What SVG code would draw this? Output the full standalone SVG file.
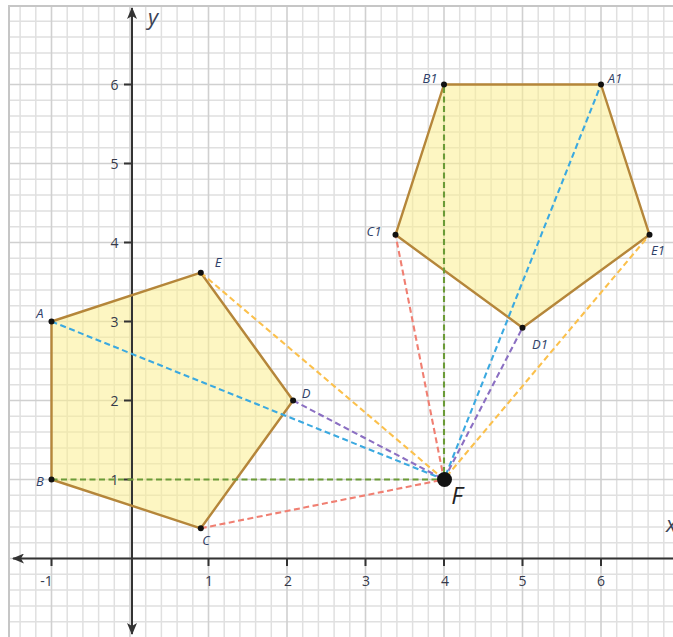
<svg xmlns="http://www.w3.org/2000/svg" width="673" height="637" viewBox="0 0 673 637">
<style>
.minor{stroke:#e0e0e0;stroke-width:1.5;fill:none}
.major{stroke:#d0d0d0;stroke-width:1.6;fill:none}
.frame{stroke:#c6c6c6;stroke-width:2;fill:none}
.fill{fill:#fcee90;fill-opacity:0.55;stroke:none}
.edge{fill:none;stroke:#b5863a;stroke-width:2.4;stroke-linejoin:round}
.axis{stroke:#333;stroke-width:2;fill:none}
.tick{stroke:#333;stroke-width:2}
.num{font-family:"Open Sans","Liberation Sans",sans-serif;font-size:14px;fill:#353a4a}
.lbl{font-family:"Open Sans","Liberation Sans",sans-serif;font-size:13px;font-style:italic;fill:#2f3f68;text-anchor:middle}
.ax{font-family:"Open Sans","Liberation Sans",sans-serif;font-size:22px;font-style:italic;fill:#3c4456}
.dash{fill:none;stroke-width:2.1;stroke-dasharray:6 3.5}
.dot{fill:#111}
</style>
<defs>
<clipPath id="gclip"><rect x="9" y="6" width="664" height="631"/></clipPath>
<marker id="arr" viewBox="0 0 12 10" refX="11" refY="5" markerWidth="12" markerHeight="10" markerUnits="userSpaceOnUse" orient="auto-start-reverse">
<path d="M0,0 L12,5 L0,10 L3,5 z" fill="#333"/>
</marker>
</defs>
<rect width="673" height="637" fill="#fff"/>
<g id="grid" clip-path="url(#gclip)">
<path class="minor" d="M20.1,6V637M35.8,6V637M67.2,6V637M82.9,6V637M98.6,6V637M114.3,6V637M145.7,6V637M161.4,6V637M177.1,6V637M192.8,6V637M224.2,6V637M239.9,6V637M255.6,6V637M271.3,6V637M302.7,6V637M318.4,6V637M334.1,6V637M349.8,6V637M381.2,6V637M396.9,6V637M412.6,6V637M428.3,6V637M459.7,6V637M475.4,6V637M491.1,6V637M506.8,6V637M538.2,6V637M553.9,6V637M569.6,6V637M585.3,6V637M616.7,6V637M632.4,6V637M648.1,6V637M663.8,6V637"/>
<path class="minor" d="M9,621.7H673M9,605.9H673M9,590.1H673M9,574.3H673M9,542.7H673M9,526.9H673M9,511.1H673M9,495.3H673M9,463.7H673M9,447.9H673M9,432.1H673M9,416.3H673M9,384.7H673M9,368.9H673M9,353.1H673M9,337.3H673M9,305.7H673M9,289.9H673M9,274.1H673M9,258.3H673M9,226.7H673M9,210.9H673M9,195.1H673M9,179.3H673M9,147.7H673M9,131.9H673M9,116.1H673M9,100.3H673M9,68.7H673M9,52.9H673M9,37.1H673M9,21.3H673"/>
<path class="major" d="M51.5,6V637M130,6V637M208.5,6V637M287,6V637M365.5,6V637M444,6V637M522.5,6V637M601,6V637"/>
<path class="major" d="M9,558.5H673M9,479.5H673M9,400.5H673M9,321.5H673M9,242.5H673M9,163.5H673M9,84.5H673"/>
</g>
<path class="frame" d="M9,637V6H673"/>
<g id="pentagon-ABCDE-fill"><polygon class="fill" points="51.5,321.5 51.5,479.5 200.8,528.3 293.1,400.5 200.8,272.7"/></g>
<g id="pentagon-A1B1C1D1E1-fill"><polygon class="fill" points="601,84.5 444,84.5 395.5,234.8 522.5,327.7 649.5,234.8"/></g>
<g id="axes">
<line class="axis" x1="132" y1="634" x2="132" y2="8" marker-start="url(#arr)" marker-end="url(#arr)"/>
<line class="axis" x1="690" y1="558.5" x2="13" y2="558.5" marker-end="url(#arr)"/>
<path class="tick" d="M51.5,558.5V566M208.5,558.5V566M287,558.5V566M365.5,558.5V566M444,558.5V566M522.5,558.5V566M601,558.5V566"/>
<path class="tick" d="M124,479.5H132M124,400.5H132M124,321.5H132M124,242.5H132M124,163.5H132M124,84.5H132"/>
<g class="num" text-anchor="middle">
<text x="46.5" y="585.5">-1</text>
<text x="209" y="585.5">1</text>
<text x="288" y="585.5">2</text>
<text x="366" y="585.5">3</text>
<text x="445" y="585.5">4</text>
<text x="522.5" y="585.5">5</text>
<text x="601" y="585.5">6</text>
</g>
<g class="num" text-anchor="end">
<text x="118.5" y="484.5">1</text>
<text x="118.5" y="405.5">2</text>
<text x="118.5" y="326.5">3</text>
<text x="118.5" y="247.5">4</text>
<text x="118.5" y="168.5">5</text>
<text x="118.5" y="89.5">6</text>
</g>
<text class="ax" x="153" y="24.5" text-anchor="middle">y</text>
<text class="ax" x="666" y="532">x</text>
</g>
<g id="pentagon-ABCDE"><polygon class="edge" points="51.5,321.5 51.5,479.5 200.8,528.3 293.1,400.5 200.8,272.7"/></g>
<g id="pentagon-A1B1C1D1E1"><polygon class="edge" points="601,84.5 444,84.5 395.5,234.8 522.5,327.7 649.5,234.8"/></g>
<g id="connectors">
<path class="dash" stroke="#3ba9e0" d="M51.5,321.5L444,479.5L601,84.5"/>
<path class="dash" stroke="#6b9b37" d="M51.5,479.5L444,479.5L444,84.5"/>
<path class="dash" stroke="#f07f72" d="M200.8,528.3L444,479.5L395.5,234.8"/>
<path class="dash" stroke="#8b6fc2" d="M293.1,400.5L444,479.5L522.5,327.7"/>
<path class="dash" stroke="#fbc04c" d="M200.8,272.7L444,479.5L649.5,234.8"/>
</g>
<g id="vertex-A"><circle class="dot" cx="51.5" cy="321.5" r="3"/><text class="lbl" x="40" y="318">A</text></g>
<g id="vertex-B"><circle class="dot" cx="51.5" cy="479.5" r="3"/><text class="lbl" x="40" y="486">B</text></g>
<g id="vertex-C"><circle class="dot" cx="200.8" cy="528.3" r="3"/><text class="lbl" x="206" y="544.5">C</text></g>
<g id="vertex-D"><circle class="dot" cx="293.1" cy="400.5" r="3"/><text class="lbl" x="306" y="397.5">D</text></g>
<g id="vertex-E"><circle class="dot" cx="200.8" cy="272.7" r="3"/><text class="lbl" x="218" y="267">E</text></g>
<g id="vertex-A1"><circle class="dot" cx="601" cy="84.5" r="3"/><text class="lbl" x="615" y="83">A1</text></g>
<g id="vertex-B1"><circle class="dot" cx="444" cy="84.5" r="3"/><text class="lbl" x="430" y="83">B1</text></g>
<g id="vertex-C1"><circle class="dot" cx="395.5" cy="234.8" r="3"/><text class="lbl" x="374" y="236">C1</text></g>
<g id="vertex-D1"><circle class="dot" cx="522.5" cy="327.7" r="3"/><text class="lbl" x="540" y="349">D1</text></g>
<g id="vertex-E1"><circle class="dot" cx="649.5" cy="234.8" r="3"/><text class="lbl" x="658" y="255">E1</text></g>
<g id="point-F"><circle class="dot" cx="444.5" cy="479.5" r="7.5"/><text x="457" y="504" font-family="'Open Sans','Liberation Sans',sans-serif" font-size="24" font-style="italic" fill="#222" text-anchor="middle">F</text></g>
</svg>
